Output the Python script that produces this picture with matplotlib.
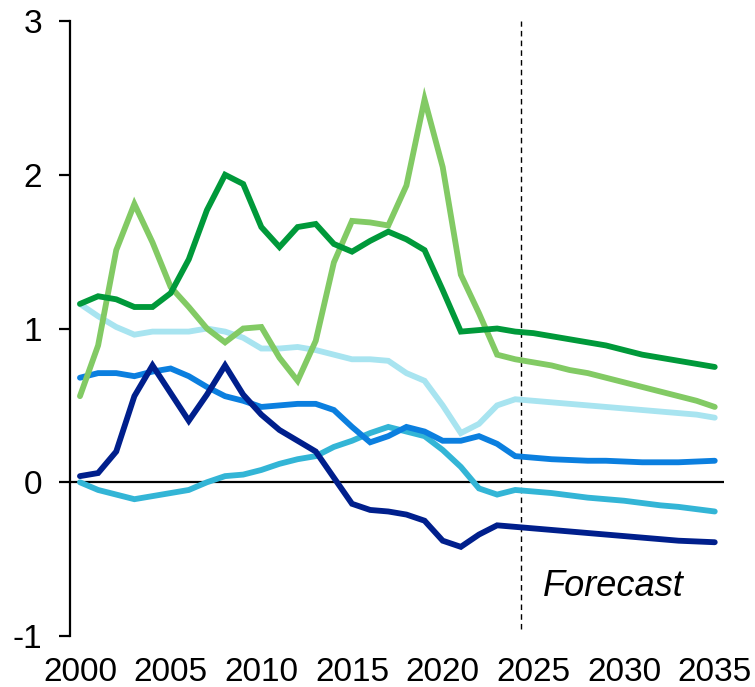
import matplotlib.pyplot as plt

plt.rcParams['font.family'] = ['Liberation Sans', 'DejaVu Sans']

years = list(range(2000, 2036))

dark_green = [1.16, 1.21, 1.19, 1.14, 1.14, 1.23, 1.45, 1.77, 2.00, 1.94,
              1.66, 1.53, 1.66, 1.68, 1.55, 1.50, 1.57, 1.63, 1.58, 1.51,
              1.25, 0.98, 0.99, 1.00, 0.98, 0.97, 0.95, 0.93, 0.91, 0.89,
              0.86, 0.83, 0.81, 0.79, 0.77, 0.75]
light_green = [0.56, 0.89, 1.51, 1.81, 1.56, 1.27, 1.14, 1.00, 0.91, 1.00,
               1.01, 0.81, 0.66, 0.92, 1.43, 1.70, 1.69, 1.67, 1.93, 2.49,
               2.05, 1.35, 1.10, 0.83, 0.80, 0.78, 0.76, 0.73, 0.71, 0.68,
               0.65, 0.62, 0.59, 0.56, 0.53, 0.49]
light_cyan = [1.16, 1.08, 1.01, 0.96, 0.98, 0.98, 0.98, 1.00, 0.98, 0.94,
              0.87, 0.87, 0.88, 0.86, 0.83, 0.80, 0.80, 0.79, 0.71, 0.66,
              0.50, 0.32, 0.38, 0.50, 0.54, 0.53, 0.52, 0.51, 0.50, 0.49,
              0.48, 0.47, 0.46, 0.45, 0.44, 0.42]
mid_blue = [0.68, 0.71, 0.71, 0.69, 0.72, 0.74, 0.69, 0.62, 0.56, 0.53,
            0.49, 0.50, 0.51, 0.51, 0.47, 0.36, 0.26, 0.30, 0.36, 0.33,
            0.27, 0.27, 0.30, 0.25, 0.17, 0.16, 0.15, 0.145, 0.14, 0.14,
            0.135, 0.13, 0.13, 0.13, 0.135, 0.14]
cyan = [0.00, -0.05, -0.08, -0.11, -0.09, -0.07, -0.05, 0.00, 0.04, 0.05,
        0.08, 0.12, 0.15, 0.17, 0.23, 0.27, 0.32, 0.36, 0.33, 0.30,
        0.21, 0.10, -0.04, -0.08, -0.05, -0.06, -0.07, -0.085, -0.10, -0.11,
        -0.12, -0.135, -0.15, -0.16, -0.175, -0.19]
navy = [0.04, 0.06, 0.20, 0.56, 0.76, 0.58, 0.40, 0.57, 0.76, 0.57,
        0.44, 0.34, 0.27, 0.20, 0.03, -0.14, -0.18, -0.19, -0.21, -0.25,
        -0.38, -0.42, -0.34, -0.28, -0.29, -0.30, -0.31, -0.32, -0.33, -0.34,
        -0.35, -0.36, -0.37, -0.38, -0.385, -0.39]

series = [
    (light_cyan, '#a8e4f0'),
    (cyan, '#33b5d6'),
    (mid_blue, '#0b7fdf'),
    (navy, '#001f8c'),
    (light_green, '#82ca64'),
    (dark_green, '#00993a'),
]

fig = plt.figure(figsize=(7.55, 6.87), dpi=100)
ax = fig.add_axes([0.0927, 0.0742, 0.866, 0.8952])

ax.axhline(0, color='black', lw=1.6, zorder=1)
ax.axvline(2024.3, ymin=0.012, ymax=1.0, color='black', lw=1.0,
           linestyle=(0, (4, 3)), zorder=1)

for vals, col in series:
    ax.plot(years, vals, color=col, lw=4.2, solid_capstyle='round',
            solid_joinstyle='miter', zorder=3)

ax.text(2025.5, -0.74, 'Forecast', fontsize=26, style='italic',
        ha='left', va='baseline')

ax.set_xlim(1999.45, 2035.5)
ax.set_ylim(-1, 3)
ax.set_yticks([-1, 0, 1, 2, 3])
ax.set_yticklabels(['-1', '0', '1', '2', '3'])
ax.set_xticks(range(2000, 2036, 5))
ax.tick_params(axis='y', labelsize=24, length=8, width=1.6, pad=12)
ax.tick_params(axis='x', labelsize=24, length=0, pad=15)

for s in ['top', 'right', 'bottom']:
    ax.spines[s].set_visible(False)
ax.spines['left'].set_linewidth(1.6)

fig.savefig('out.png', dpi=100)
